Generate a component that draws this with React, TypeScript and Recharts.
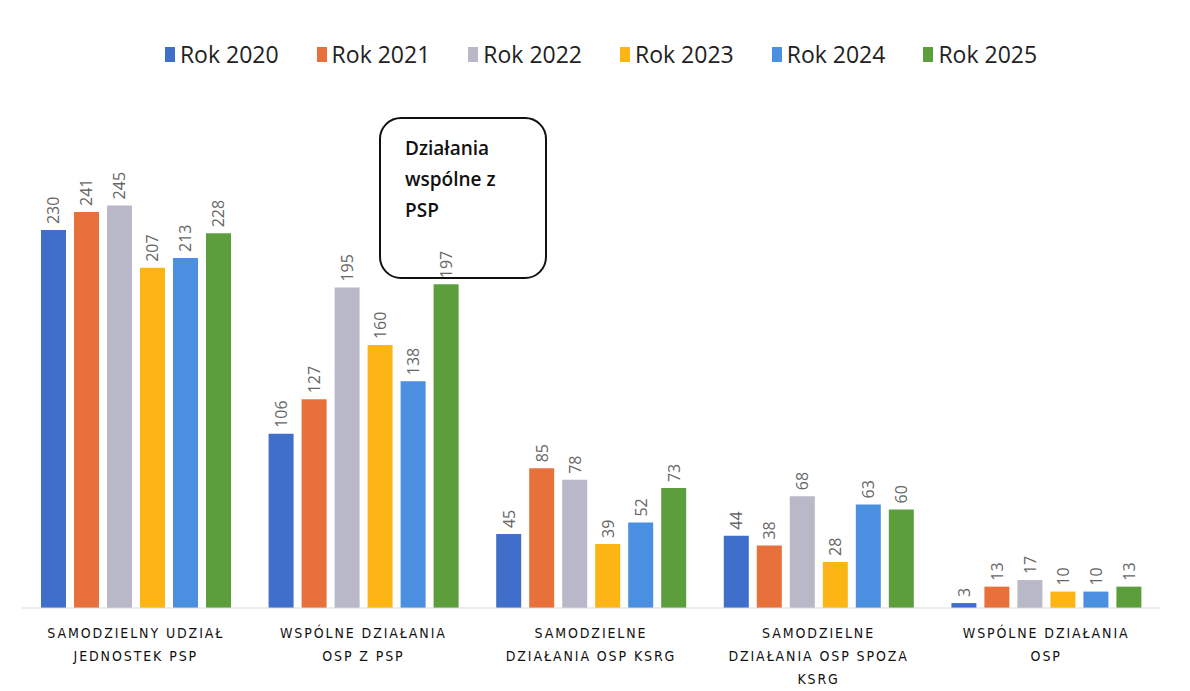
import { Bar, BarChart, LabelList, Legend, XAxis, YAxis } from "recharts";

const categories = [
  "SAMODZIELNY UDZIAŁ\nJEDNOSTEK PSP",
  "WSPÓLNE DZIAŁANIA\nOSP Z PSP",
  "SAMODZIELNE\nDZIAŁANIA OSP KSRG",
  "SAMODZIELNE\nDZIAŁANIA OSP SPOZA\nKSRG",
  "WSPÓLNE DZIAŁANIA\nOSP",
];

const rok2020 = [230, 106, 45, 44, 3];
const rok2021 = [241, 127, 85, 38, 13];
const rok2022 = [245, 195, 78, 68, 17];
const rok2023 = [207, 160, 39, 28, 10];
const rok2024 = [213, 138, 52, 63, 10];
const rok2025 = [228, 197, 73, 60, 13];

const seriesNames = ["Rok 2020", "Rok 2021", "Rok 2022", "Rok 2023", "Rok 2024", "Rok 2025"];
const seriesColors = ["#3f6fcb", "#e8703a", "#b8b8c8", "#fdb515", "#4b8fe0", "#5c9e3c"];
const seriesValues = [rok2020, rok2021, rok2022, rok2023, rok2024, rok2025];

const data = categories.map((name, i) => {
  const row: Record<string, string | number> = { name };
  seriesNames.forEach((s, j) => {
    row[s] = seriesValues[j][i];
  });
  return row;
});

function CategoryTick(props: any) {
  const { x, y, payload } = props;
  const lines = String(payload.value).split("\n");
  return (
    <text
      x={x}
      y={y + 22}
      textAnchor="middle"
      fill="#111"
      fontSize={14}
      letterSpacing={1.9}
      fontFamily="'Liberation Sans Narrow', 'DejaVu Sans Condensed', sans-serif"
    >
      {lines.map((l, i) => (
        <tspan key={i} x={x} dy={i === 0 ? 0 : 23}>
          {l}
        </tspan>
      ))}
    </text>
  );
}

function ValueLabel(props: any) {
  const { x, y, width, value } = props;
  const cx = x + width / 2 + 6;
  const cy = y - 6;
  return (
    <text
      x={cx}
      y={cy}
      transform={`rotate(-90, ${cx}, ${cy})`}
      textAnchor="start"
      fill="#666"
      fontSize={16}
      fontFamily="'Open Sans', sans-serif"
    >
      {value}
    </text>
  );
}

function LegendContent() {
  return (
    <div style={{ display: "flex", justifyContent: "center", gap: 38, fontFamily: "'Open Sans', sans-serif", paddingLeft: 20 }}>
      {seriesNames.map((s, i) => (
        <div key={s} style={{ display: "flex", alignItems: "center", gap: 5 }}>
          <span style={{ width: 10, height: 15, background: seriesColors[i], display: "inline-block" }} />
          <span style={{ fontSize: 23, color: "#222" }}>{s}</span>
        </div>
      ))}
    </div>
  );
}

export default function App() {
  return (
    <div style={{ position: "fixed", left: 0, top: 0, width: 1190, height: 691, background: "#fff" }}>
      <BarChart
        width={1190}
        height={691}
        data={data}
        margin={{ top: 60, right: 30, bottom: 53, left: 22 }}
        barCategoryGap={19}
        barGap={8}
      >
        <Legend verticalAlign="top" height={55} content={<LegendContent />} wrapperStyle={{ top: 38 }} />
        <XAxis
          dataKey="name"
          axisLine={{ stroke: "#d9d9d9" }}
          tickLine={false}
          interval={0}
          tick={<CategoryTick />}
        />
        <YAxis hide domain={[0, 300]} />
        {seriesNames.map((s, i) => (
          <Bar key={s} dataKey={s} fill={seriesColors[i]} isAnimationActive={false}>
            <LabelList dataKey={s} content={<ValueLabel />} />
          </Bar>
        ))}
      </BarChart>
      <div
        style={{
          position: "absolute",
          left: 379,
          top: 117,
          width: 168,
          height: 162,
          border: "2px solid #111",
          borderRadius: 22,
          boxSizing: "border-box",
          padding: "14px 24px",
          fontFamily: "'Open Sans', sans-serif",
          fontSize: 19,
          fontWeight: 600,
          lineHeight: "31px",
          color: "#111",
        }}
      >
        Działania wspólne z PSP
      </div>
    </div>
  );
}
